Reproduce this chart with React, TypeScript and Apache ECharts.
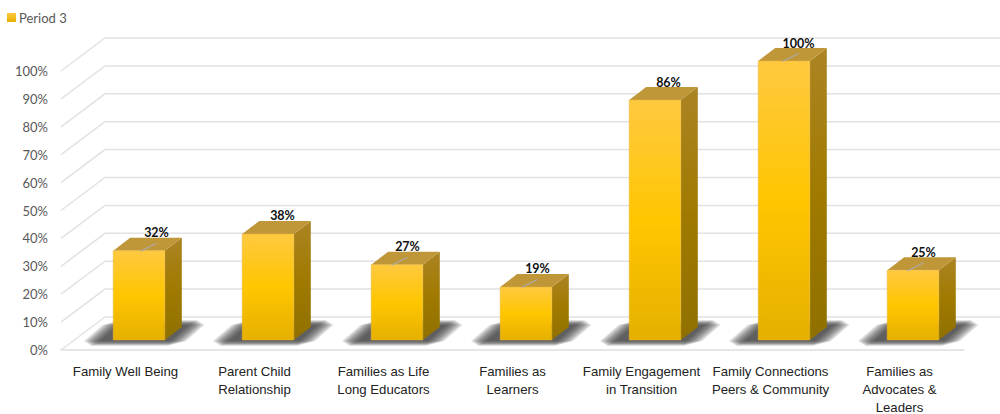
import React, { useEffect, useRef } from "react";
import * as echarts from "echarts";

const categories = [
  "Family Well Being",
  "Parent Child\nRelationship",
  "Families as Life\nLong Educators",
  "Families as\nLearners",
  "Family Engagement\nin Transition",
  "Family Connections\nPeers & Community",
  "Families as\nAdvocates &\nLeaders",
];
const period3 = [32, 38, 27, 19, 86, 100, 25];
const ticks = [0, 10, 20, 30, 40, 50, 60, 70, 80, 90, 100];
const seriesName = "Period 3";
const hasLeader = [true, false, true, true, false, true, true];
const labelNudgeX = [17.5, 14.5, 10.5, 11.5, 13.5, 14.5, 10.5];

const DX = 44, DY = 33;
const BAR_DX = 17, BAR_DY = 13, BAR_SHIFT = 13.5, BASE_LIFT = 10;
const SHADOW_LAYERS = [16, 14, 12, 10, 8, 6, 4, 2, 0];

export default function App() {
  const ref = useRef<HTMLDivElement>(null);
  useEffect(() => {
    document.body.style.margin = "0";
    const chart = echarts.init(ref.current!, undefined, { renderer: "svg" });
    const v = (stops: [number, string][]) =>
      new echarts.graphic.LinearGradient(0, 0, 0, 1, stops.map(([offset, color]) => ({ offset, color })));
    const frontFill = v([[0, "#FFC940"], [0.5, "#FFC600"], [1, "#E5B000"]]);
    const sideFill = v([[0, "#AB8424"], [0.5, "#A07A00"], [1, "#8F7000"]]);

    chart.setOption({
      animation: false,
      backgroundColor: "#fff",
      legend: {
        data: [seriesName], left: 7, top: 11, itemWidth: 9, itemHeight: 9, itemGap: 4,
        icon: "rect", padding: 0,
        textStyle: { color: "#595959", fontFamily: "Lato", fontSize: 13, padding: [0, 0, 0, -2] },
      },
      grid: { left: 61, top: 71, width: 903, height: 279, outerBoundsMode: "none" },
      xAxis: {
        type: "category", data: categories,
        axisTick: { show: false },
        axisLine: { lineStyle: { color: "#DEDEDE", width: 1.5 } },
        axisLabel: { interval: 0, color: "#222", fontFamily: "Liberation Sans", fontSize: 13.2, lineHeight: 18, margin: 12 },
      },
      yAxis: {
        type: "value", min: 0, max: 100, interval: 10,
        axisLine: { show: false }, axisTick: { show: false }, splitLine: { show: false },
        axisLabel: { formatter: "{value}%", color: "#595959", fontFamily: "Lato", fontSize: 13, margin: 13, padding: [2, 0, 0, 0] },
      },
      series: [
        {
          name: "Walls", type: "custom", silent: true, z: 1,
          data: ticks.map((t) => [0, t]),
          renderItem: (_p: any, api: any) => {
            const y = api.coord([0, api.value(1)])[1];
            const x0 = 61;
            return {
              type: "polyline",
              shape: { points: [[x0, y], [x0 + DX, y - DY], [api.getWidth(), y - DY]] },
              style: { stroke: "#E2E2E2", lineWidth: 1.5, fill: "none" },
            };
          },
        },
        {
          name: "Shadow", type: "custom", silent: true, z: 2,
          data: period3.map((val, i) => [i, val]),
          renderItem: (_p: any, api: any) => {
            const [cx, yb] = api.coord([api.value(0), 0]);
            const w = api.size([1, 0])[0] * 0.4;
            const l = cx + BAR_SHIFT - w / 2;
            const b = yb - BASE_LIFT;
            const sk = (dx: number, dy: number) => [l + dx - dy * 1.15, b + dy];
            return {
              type: "group",
              children: SHADOW_LAYERS.map((e) => {
                const x0 = -12 - e, x1 = 58 + e;
                const y0 = 1 + 0.3 * e, y1 = -15 - 0.3 * e;
                const c = e * 0.8, vc = e * 0.3;
                return {
                  type: "polygon",
                  shape: {
                    points: [
                      sk(x0 + c, y0), sk(x1 - c, y0), sk(x1, y0 - vc), sk(x1, y1 + vc),
                      sk(x1 - c, y1), sk(x0 + c, y1), sk(x0, y1 + vc), sk(x0, y0 - vc),
                    ],
                  },
                  style: { fill: "rgba(40,40,40,0.14)" },
                };
              }),
            };
          },
        },
        {
          name: seriesName, type: "custom", silent: true, z: 3,
          itemStyle: { color: v([[0, "#FFC940"], [1, "#E5B000"]]) },
          data: period3.map((val, i) => [i, val]),
          renderItem: (p: any, api: any) => {
            const val = api.value(1);
            const cx = api.coord([api.value(0), 0])[0] + BAR_SHIFT;
            const w = api.size([1, 0])[0] * 0.4;
            const l = cx - w / 2, r = cx + w / 2;
            const b = api.coord([0, 0])[1] - BASE_LIFT;
            const t = api.coord([0, val])[1] - BASE_LIFT;
            const nudge = labelNudgeX[p.dataIndex];
            const children: any[] = [
              { type: "polygon", shape: { points: [[r, t], [r + BAR_DX, t - BAR_DY], [r + BAR_DX, b - BAR_DY], [r, b]] }, style: { fill: sideFill } },
              { type: "polygon", shape: { points: [[l, t], [l + BAR_DX, t - BAR_DY], [r + BAR_DX, t - BAR_DY], [r, t]] }, style: { fill: "#C09738" } },
              { type: "rect", shape: { x: l, y: t, width: w, height: b - t }, style: { fill: frontFill, stroke: "#E8B63A", lineWidth: 0.5 } },
            ];
            if (hasLeader[p.dataIndex]) {
              children.push({ type: "line", shape: { x1: cx + nudge - 16, y1: t + 0.5, x2: cx + nudge, y2: t - 7.5 }, style: { stroke: "#ABABAB", lineWidth: 1.2 } });
            }
            children.push({ type: "text", style: { text: val + "%", x: cx + nudge, y: t - BAR_DY - 5, align: "center", verticalAlign: "middle", fill: "#111", fontFamily: "Lato", fontSize: 12.5, fontWeight: "bold" } });
            return { type: "group", children };
          },
        },
      ],
    });
    return () => chart.dispose();
  }, []);
  return <div ref={ref} style={{ width: 1000, height: 414 }} />;
}
